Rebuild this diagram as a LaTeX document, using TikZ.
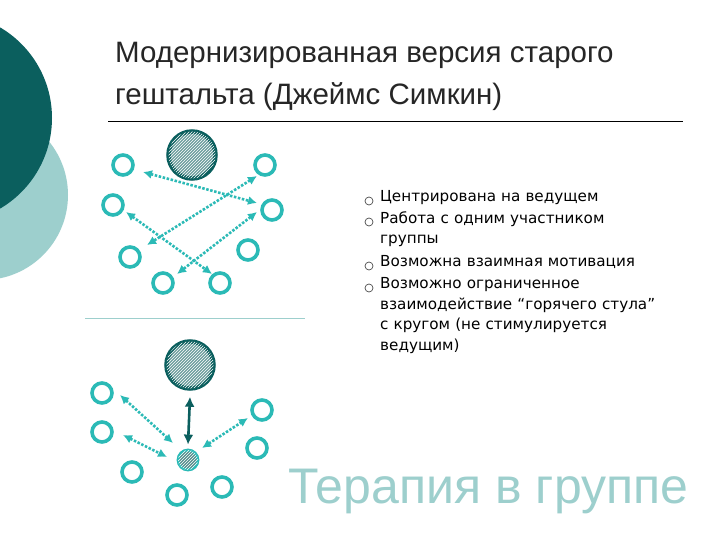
\documentclass[tikz,border=0pt]{standalone}
\usepackage{fontspec}
\setmainfont{DejaVu Sans}
\newfontfamily\titlefont{Liberation Sans}
\usetikzlibrary{patterns,arrows.meta,calc}
\definecolor{tl}{HTML}{2BBAB6}
\definecolor{dk}{HTML}{0B5F5E}
\definecolor{lt}{HTML}{9DCFCD}
\tikzset{
 sm/.style={circle,draw=tl,line width=3.6pt,fill=white,minimum size=20pt,inner sep=0pt},
 bigc/.style={circle,draw=dk,line width=4.5pt,minimum size=47pt,inner sep=0pt,fill=dk!60,postaction={pattern=north east lines,pattern color=white}},
 smh/.style={circle,draw=tl,line width=2.8pt,minimum size=20pt,inner sep=0pt,fill=dk!70,postaction={pattern=north east lines,pattern color=white}},
 da/.style={draw=tl,line width=2.6pt,dash pattern=on 2.5pt off 1.6pt,{Latex[length=9pt,width=9pt]}-{Latex[length=9pt,width=9pt]}},
 sa/.style={draw=dk,line width=2.6pt,{Latex[length=10pt,width=10pt]}-{Latex[length=10pt,width=10pt]}},
 bl/.style={anchor=north west,text width=320pt,font=\fontsize{15.2}{20.8}\selectfont,inner sep=0pt,align=left}
}
\begin{document}
\begin{tikzpicture}[x=1pt,y=-1pt]
\useasboundingbox (0,0) rectangle (720,540);
\fill[white] (0,0) rectangle (720,540);
\fill[lt] (-17,195) circle (85);
\fill[dk] (-53,118) circle (105);
\node[anchor=base west,font=\titlefont\fontsize{29.5}{34}\selectfont,text=black!85,inner sep=0pt] (t1) at (115,63) {Модернизированная версия старого};
\node[anchor=base west,font=\titlefont\fontsize{29.5}{34}\selectfont,text=black!85,inner sep=0pt] (t2) at (115,105) {гештальта (Джеймс Симкин)};
\draw[black,line width=0.7pt] (108,121) -- (683,121);
\draw[lt,line width=0.6pt] (85,318) -- (305,318);
% top group
\node[bigc] (B) at (192,155) {};
\node[sm] (a1) at (123,165) {};
\node[sm] (a2) at (265,165) {};
\node[sm] (a3) at (113,205) {};
\node[sm] (a4) at (272,210) {};
\node[sm] (a5) at (130,257) {};
\node[sm] (a6) at (248,250) {};
\node[sm] (a7) at (163,283) {};
\node[sm] (a8) at (220,283) {};
\coordinate (p1) at (143,172); \coordinate (q1) at (257,203);
\coordinate (p2) at (257,176); \coordinate (q2) at (147,245);
\coordinate (p3) at (126,212); \coordinate (q3) at (212,274);
\coordinate (p4) at (257,212); \coordinate (q4) at (177,274);
\draw[da] (p1) -- (q1);
\draw[da] (p2) -- (q2);
\draw[da] (p3) -- (q3);
\draw[da] (p4) -- (q4);
% bottom group
\node[bigc] (C) at (190,365) {};
\node[smh] (h) at (188,460) {};
\node[sm] (b1) at (102,393) {};
\node[sm] (b2) at (102,432) {};
\node[sm] (b3) at (132,472) {};
\node[sm] (b4) at (177,495) {};
\node[sm] (b5) at (222,487) {};
\node[sm] (b6) at (262,410) {};
\node[sm] (b7) at (257,448) {};
\draw[sa] ($(C.south)+(0,6)$) -- ($(h.north)+(0,-4)$);
\coordinate (r1) at (120,395); \coordinate (s1) at (173,443);
\coordinate (r2) at (123,435); \coordinate (s2) at (167,457);
\coordinate (r3) at (202,448); \coordinate (s3) at (248,418);
\draw[da] (r1) -- (s1);
\draw[da] (r2) -- (s2);
\draw[da] (r3) -- (s3);
% bullets
\foreach \y in {201,222,266,288} \node[circle,draw=black!70,line width=0.7pt,minimum size=8pt,inner sep=0pt] at (369,\y) {};
\node[bl] (l1) at (380,190) {Центрирована на ведущем};
\node[bl] (l2) at (380,211) {Работа с одним участником\\группы};
\node[bl] (l3) at (380,255) {Возможна взаимная мотивация};
\node[bl] (l4) at (380,277) {Возможно ограниченное\\взаимодействие “горячего стула”\\с кругом (не стимулируется\\ведущим)};
\node[anchor=base west,font=\titlefont\fontsize{50}{56}\selectfont,text=lt,inner sep=0pt] (tg) at (288,503) {Терапия в группе};
\end{tikzpicture}
\end{document}
